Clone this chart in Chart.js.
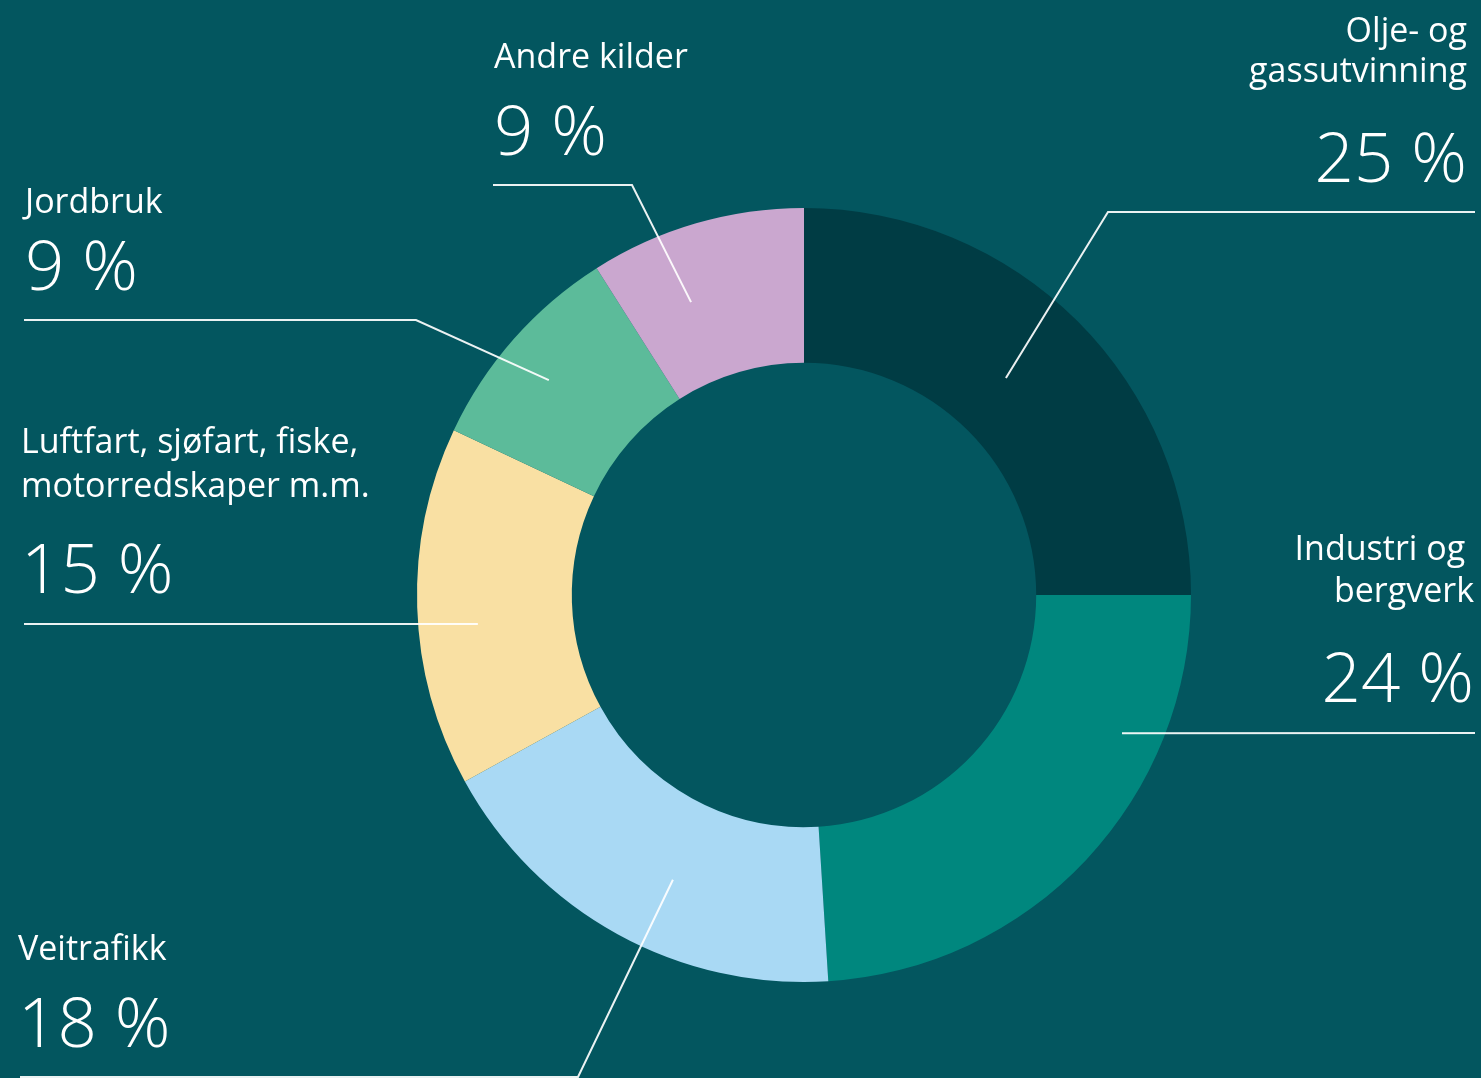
<!DOCTYPE html>
<html>
<head>
<meta charset="utf-8">
<script src="https://cdn.jsdelivr.net/npm/chart.js@4.4.0/dist/chart.umd.min.js"></script>
<style>
  html, body { margin: 0; padding: 0; background: #03565f; }
  #wrap { width: 1481px; height: 1078px; position: relative; }
</style>
</head>
<body>
<div id="wrap"><canvas id="donut"></canvas></div>
<script>
const categories = [
  "Olje- og gassutvinning",
  "Industri og bergverk",
  "Veitrafikk",
  "Luftfart, sjøfart, fiske, motorredskaper m.m.",
  "Jordbruk",
  "Andre kilder"
];
const shares = [25, 24, 18, 15, 9, 9];
const colors = ["#003c44", "#00877e", "#a9d9f4", "#f9e0a3", "#5cbb9a", "#caa7cf"];

// label layout: text lines, where the leader line touches the arc (t = fraction along the arc, f = fraction of outer radius)
const labelLayout = [
  { lines: ["Olje- og", "gassutvinning"], align: "right", x: 1467, base: [42, 82], pctBase: 182,
    t: 0.477, f: 0.766, path: [[1108, 212], [1475, 212]] },
  { lines: ["Industri og ", "bergverk"], align: "right", x: 1474, base: [560, 602], pctBase: 702,
    t: 0.272, f: 0.896, path: [[1475, 733]] },
  { lines: ["Veitrafikk"], align: "left", x: 18, base: [960], pctBase: 1047,
    t: 0.437, f: 0.81, path: [[578, 1077], [20, 1077]] },
  { lines: ["Luftfart, sjøfart, fiske,", "motorredskaper m.m."], align: "left", x: 21, base: [453, 497], pctBase: 593,
    t: 0.439, f: 0.846, path: [[24, 624]] },
  { lines: ["Jordbruk"], align: "left", x: 25, base: [213], pctBase: 290,
    t: 0.46, f: 0.862, path: [[416, 320], [24, 320]] },
  { lines: ["Andre kilder"], align: "left", x: 494, base: [68], pctBase: 155,
    t: 0.349, f: 0.811, path: [[632, 185], [493, 185]] }
];

const calloutPlugin = {
  id: "callouts",
  afterDraw(chart) {
    const ctx = chart.ctx;
    const meta = chart.getDatasetMeta(0);
    ctx.save();
    labelLayout.forEach((lab, i) => {
      const arc = meta.data[i];
      const ang = arc.startAngle + lab.t * (arc.endAngle - arc.startAngle);
      const r = lab.f * arc.outerRadius;
      const ax = arc.x + r * Math.cos(ang);
      const ay = arc.y + r * Math.sin(ang);

      ctx.strokeStyle = "rgba(255,255,255,0.92)";
      ctx.lineWidth = 2;
      ctx.beginPath();
      ctx.moveTo(ax, ay);
      lab.path.forEach(p => ctx.lineTo(p[0], p[1]));
      ctx.stroke();

      ctx.fillStyle = "#ffffff";
      ctx.textAlign = lab.align;
      ctx.textBaseline = "alphabetic";
      ctx.font = "400 34px 'Open Sans'";
      lab.lines.forEach((txt, k) => ctx.fillText(txt, lab.x, lab.base[k]));
      ctx.font = "300 69px 'Open Sans'";
      ctx.fillText(shares[i] + " %", lab.x, lab.pctBase);
    });
    ctx.restore();
  }
};

new Chart(document.getElementById("donut"), {
  type: "doughnut",
  data: {
    labels: categories,
    datasets: [{
      data: shares,
      backgroundColor: colors,
      borderWidth: 0
    }]
  },
  options: {
    responsive: true,
    maintainAspectRatio: false,
    animation: false,
    cutout: "60%",
    layout: { padding: { top: 208, bottom: 96, left: 417, right: 290 } },
    plugins: {
      legend: { display: false },
      tooltip: { enabled: false }
    }
  },
  plugins: [calloutPlugin]
});
</script>
</body>
</html>
